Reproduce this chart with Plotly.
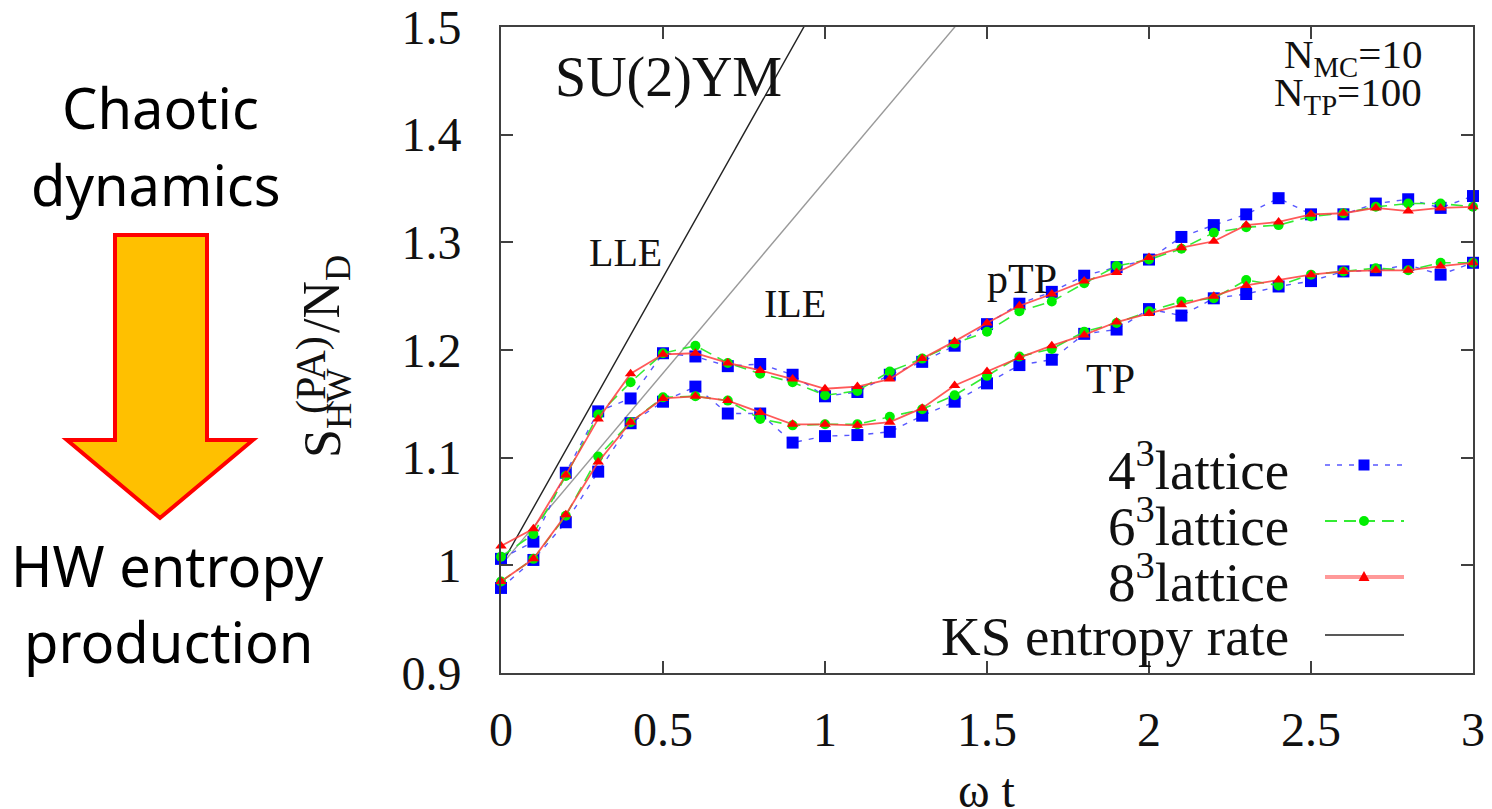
import plotly.graph_objects as go

# ---------------- data ----------------
wt = [0.0, 0.1, 0.2, 0.3, 0.4, 0.5, 0.6, 0.7, 0.8, 0.9, 1.0,
      1.1, 1.2, 1.3, 1.4, 1.5, 1.6, 1.7, 1.8, 1.9, 2.0,
      2.1, 2.2, 2.3, 2.4, 2.5, 2.6, 2.7, 2.8, 2.9, 3.0]

# pTP branch (upper curves)
ptp_4 = [1.006, 1.022, 1.086, 1.143, 1.155, 1.197, 1.194, 1.185, 1.187, 1.177, 1.157,
         1.161, 1.177, 1.189, 1.204, 1.224, 1.243, 1.254, 1.269, 1.277, 1.284,
         1.305, 1.316, 1.326, 1.341, 1.326, 1.326, 1.336, 1.340, 1.332, 1.343]
ptp_6 = [1.008, 1.029, 1.083, 1.140, 1.170, 1.197, 1.204, 1.188, 1.178, 1.170, 1.158,
         1.162, 1.180, 1.192, 1.206, 1.217, 1.236, 1.245, 1.262, 1.278, 1.284,
         1.294, 1.309, 1.314, 1.316, 1.324, 1.327, 1.333, 1.336, 1.336, 1.333]
ptp_8 = [1.018, 1.034, 1.084, 1.136, 1.178, 1.196, 1.197, 1.188, 1.181, 1.173, 1.164,
         1.166, 1.173, 1.192, 1.208, 1.225, 1.241, 1.252, 1.264, 1.272, 1.286,
         1.295, 1.301, 1.316, 1.319, 1.326, 1.327, 1.332, 1.329, 1.332, 1.333]

# TP branch (lower curves)
tp_4 = [0.979, 1.005, 1.040, 1.087, 1.132, 1.152, 1.166, 1.141, 1.141, 1.114, 1.120,
        1.121, 1.124, 1.139, 1.152, 1.169, 1.186, 1.191, 1.215, 1.219, 1.238,
        1.232, 1.248, 1.252, 1.259, 1.264, 1.273, 1.274, 1.279, 1.270, 1.281]
tp_6 = [0.985, 1.006, 1.046, 1.101, 1.133, 1.156, 1.157, 1.153, 1.136, 1.130, 1.131,
        1.131, 1.138, 1.145, 1.158, 1.176, 1.194, 1.201, 1.217, 1.225, 1.236,
        1.245, 1.248, 1.265, 1.260, 1.270, 1.273, 1.276, 1.274, 1.281, 1.281]
tp_8 = [0.985, 1.006, 1.047, 1.096, 1.133, 1.155, 1.157, 1.153, 1.142, 1.131, 1.131,
        1.130, 1.133, 1.146, 1.167, 1.180, 1.193, 1.204, 1.214, 1.226, 1.234,
        1.242, 1.250, 1.260, 1.265, 1.270, 1.273, 1.274, 1.274, 1.278, 1.281]

# KS entropy-rate reference lines: S = s0 + slope * wt
ks_s0 = 1.0
lle_slope = 0.535
ile_slope = 0.357
ks_x = [0.0, 3.0]

x_tick_vals = [0, 0.5, 1, 1.5, 2, 2.5, 3]
x_tick_text = ["0", "0.5", "1", "1.5", "2", "2.5", "3"]
y_tick_vals = [0.9, 1.0, 1.1, 1.2, 1.3, 1.4, 1.5]
y_tick_text = ["0.9", "1", "1.1", "1.2", "1.3", "1.4", "1.5"]

legend_labels = ["4<sup>3</sup>lattice", "6<sup>3</sup>lattice", "8<sup>3</sup>lattice", "KS entropy rate"]

# ---------------- layout helpers ----------------
# the page body keeps its default 8px margin, so the figure is offset by 8px
OFF = 8
W, H = 1492 - OFF, 809 - OFF
L, R, T, B = 501 - OFF, 19, 27 - OFF, 136
PW, PH = W - L - R, H - T - B


def px(xp):
    """window pixel x -> paper x"""
    return (xp - OFF - L) / PW


def py(yp):
    """window pixel y -> paper y"""
    return (H - B - (yp - OFF)) / PH


SERIF = "Liberation Serif"
BLUE_LINE = "rgba(70,70,255,0.9)"
GREEN_LINE = "rgba(40,235,40,0.95)"
RED_LINE = "rgba(255,60,60,0.85)"

fig = go.Figure()

# KS lines
ks_lle = [ks_s0 + lle_slope * v for v in ks_x]
ks_ile = [ks_s0 + ile_slope * v for v in ks_x]
fig.add_trace(go.Scatter(x=ks_x, y=ks_lle, mode="lines",
                         line=dict(color="#222222", width=1.4), showlegend=False))
fig.add_trace(go.Scatter(x=ks_x, y=ks_ile, mode="lines",
                         line=dict(color="#9a9a9a", width=1.4), showlegend=False))

series = [
    (ptp_4, tp_4, BLUE_LINE, "5px,7px", 1.4, "square", 12, "#0000ff"),
    (ptp_6, tp_6, GREEN_LINE, "12px,7px", 1.6, "circle", 10, "#00ee00"),
    (ptp_8, tp_8, RED_LINE, "solid", 1.8, "triangle-up", 10, "#ff0000"),
]
for up, lo, lc, dash, lw, sym, ms, mc in series:
    for ys in (up, lo):
        fig.add_trace(go.Scatter(
            x=wt, y=ys, mode="lines+markers",
            line=dict(color=lc, width=lw, dash=dash),
            marker=dict(symbol=sym, size=ms, color=mc, line=dict(width=0)),
            cliponaxis=False, showlegend=False))

axis_common = dict(
    showline=True, linecolor="#404040", linewidth=2, mirror="ticks",
    ticks="inside", ticklen=12, tickwidth=1.5, tickcolor="#404040",
    showgrid=False, zeroline=False, automargin=False,
    tickfont=dict(family=SERIF, size=48, color="#111111"),
)
fig.update_xaxes(range=[0, 3], tickvals=x_tick_vals, ticktext=x_tick_text,
                 ticklabelstandoff=13, ticklabeloverflow="allow", **axis_common)
fig.update_yaxes(range=[0.9, 1.5], tickvals=y_tick_vals, ticktext=y_tick_text,
                 ticklabelstandoff=28, ticklabeloverflow="allow", **axis_common)

ann = []


def label(x, y, text, size, xanchor="center", yanchor="middle", angle=0):
    ann.append(dict(x=px(x), y=py(y), xref="paper", yref="paper", text=text,
                    showarrow=False, xanchor=xanchor, yanchor=yanchor,
                    textangle=angle,
                    font=dict(family=SERIF, size=size, color="#111")))


# in-plot labels
label(553, 77, "SU(2)YM", 56, xanchor="left")
label(625, 252, "LLE", 40)
label(795, 304, "ILE", 40)
label(1022, 279, "pTP", 42)
label(1110, 379, "TP", 42)
label(1424, 57, "N<sub>MC</sub>=10", 41, xanchor="right")
label(1424, 95, "N<sub>TP</sub>=100", 41, xanchor="right")

# axis titles
label(987, 790, "ω t", 48)
label(326, 460, "S<sub>HW</sub>", 52, yanchor="bottom", angle=-90)
label(311, 416, "(PA)", 42, yanchor="bottom", angle=-90)
label(326, 335, "/N<sub>D</sub>", 52, yanchor="bottom", angle=-90)

# manual gnuplot-style legend (text left, sample right)
leg_rows = [465, 521, 577, 635]
for lab, yy in zip(legend_labels, leg_rows):
    label(1291, yy + 1, lab, 55, xanchor="right")

shapes = []
leg_styles = [
    (BLUE_LINE, "5px,7px", 1.4),
    (GREEN_LINE, "12px,7px", 1.8),
    ("rgba(255,110,110,0.7)", "solid", 4),
    ("#222222", "solid", 1.5),
]
for (lc, dash, lw), yy in zip(leg_styles, leg_rows):
    shapes.append(dict(type="line", xref="paper", yref="paper",
                       x0=px(1325), x1=px(1404), y0=py(yy), y1=py(yy),
                       line=dict(color=lc, width=lw, dash=dash)))
mx = px(1364)
shapes.append(dict(type="rect", xref="paper", yref="paper", xsizemode="pixel",
                   ysizemode="pixel", xanchor=mx, yanchor=py(leg_rows[0]),
                   x0=-5.5, x1=5.5, y0=-5.5, y1=5.5,
                   fillcolor="#0000ff", line=dict(width=0)))
shapes.append(dict(type="circle", xref="paper", yref="paper", xsizemode="pixel",
                   ysizemode="pixel", xanchor=mx, yanchor=py(leg_rows[1]),
                   x0=-5, x1=5, y0=-5, y1=5,
                   fillcolor="#00ee00", line=dict(width=0)))
shapes.append(dict(type="path", xref="paper", yref="paper", xsizemode="pixel",
                   ysizemode="pixel", xanchor=mx, yanchor=py(leg_rows[2]),
                   path="M -5.5,-4 L 5.5,-4 L 0,6 Z",
                   fillcolor="#ff0000", line=dict(width=0)))

# left-hand arrow graphic
arrow_px = [(115, 235), (207, 235), (207, 440), (253, 440), (160, 518), (67, 440), (115, 440)]
path = "M " + " L ".join(f"{px(a):.5f},{py(b):.5f}" for a, b in arrow_px) + " Z"
shapes.append(dict(type="path", xref="paper", yref="paper", path=path,
                   fillcolor="#FFC000", line=dict(color="#FF0000", width=4)))

SANS = "Noto Sans"
for txt, xx, yy in [("Chaotic", 160, 107), ("dynamics", 156, 184),
                    ("HW entropy", 167, 565), ("production", 168, 641)]:
    ann.append(dict(x=px(xx), y=py(yy), xref="paper", yref="paper", text=txt,
                    showarrow=False, xanchor="center", yanchor="middle",
                    font=dict(family=SANS, size=56, color="#000")))

fig.update_layout(
    width=W, height=H,
    margin=dict(l=L, r=R, t=T, b=B, pad=0, autoexpand=False),
    paper_bgcolor="white", plot_bgcolor="white",
    showlegend=False,
    annotations=ann, shapes=shapes,
)

fig.write_html("out.html")
